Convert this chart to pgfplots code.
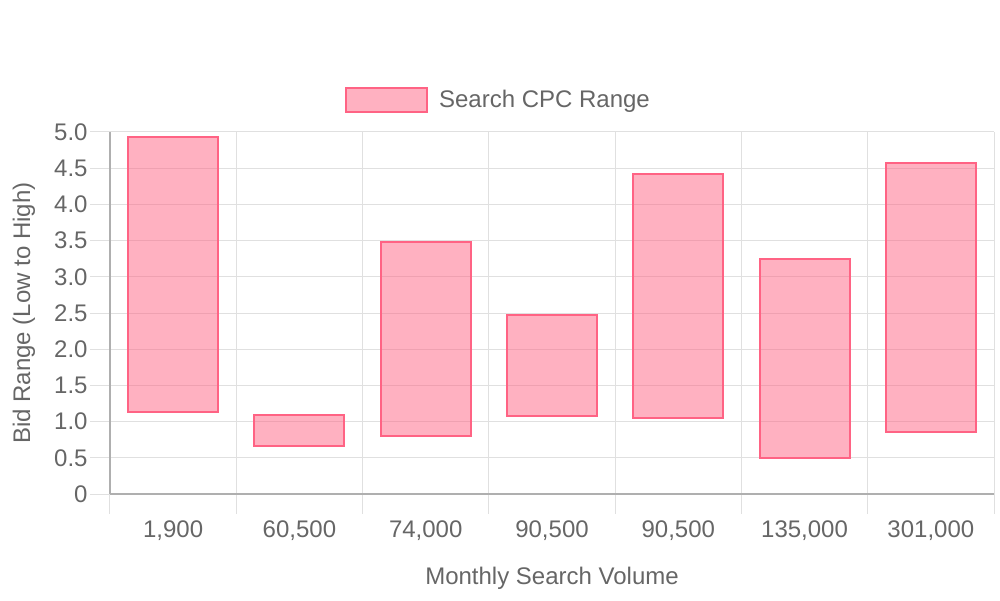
\documentclass[border=0pt]{standalone}
\usepackage{pgfplots}
\usepackage{pgfplotstable}
\pgfplotsset{compat=1.18}
\usepackage{fontspec}
\setmainfont{Liberation Sans}

\definecolor{txt}{RGB}{102,102,102}
\definecolor{gridc}{RGB}{224,224,224}
\definecolor{axisc}{RGB}{175,175,175}
\definecolor{cpc}{RGB}{255,99,132}

\pgfplotsset{
  cpc legend/.style={
    legend image code/.code={
      \draw[draw=cpc, line width=1pt, fill=cpc, fill opacity=0.5]
        (0pt,-6.1pt) rectangle (40.5pt,6.1pt);
      \path (44pt,0pt);}}
}

% bid range per keyword: low and high CPC
\pgfplotstableread{
x low high
0 1.13 4.93
1 0.66 1.09
2 0.80 3.48
3 1.08 2.47
4 1.05 4.42
5 0.50 3.25
6 0.85 4.57
}\cpcdata

\begin{document}
\begin{tikzpicture}
\useasboundingbox (-55pt,-53pt) rectangle (445pt,247pt);
\begin{axis}[
  scale only axis, width=442pt, height=181pt,
  at={(0,0)}, anchor=south west,
  font=\fontsize{12}{14}\selectfont,
  xmin=-0.5, xmax=6.5, ymin=0, ymax=5,
  ybar stacked, bar width=45pt,
  axis lines*=left,
  axis line style={axisc, line width=0.6pt},
  tick align=outside,
  major tick length=10pt, minor tick length=10pt,
  ytick={0,0.5,...,5},
  yticklabels={0,0.5,1.0,1.5,2.0,2.5,3.0,3.5,4.0,4.5,5.0},
  xtick={0,...,6},
  xticklabels={{1,900},{60,500},{74,000},{90,500},{90,500},{135,000},{301,000}},
  minor xtick={-0.5,0.5,...,6.5},
  ymajorgrids, xminorgrids,
  major grid style={gridc, line width=0.5pt},
  minor grid style={gridc, line width=0.5pt},
  major x tick style={draw=none},
  minor x tick style={gridc, line width=0.5pt},
  ytick style={gridc, line width=0.5pt},
  every tick label/.append style={text=txt},
  yticklabel style={inner sep=1pt},
  xlabel={Monthly Search Volume},
  ylabel={Bid Range (Low to High)},
  every axis x label/.style={at={(axis description cs:0.5,-0.232)}, anchor=center, text=txt},
  every axis y label/.style={at={(axis description cs:-0.0975,0.5)}, rotate=90, anchor=center, text=txt},
  legend style={at={(axis description cs:0.4406,1.088)}, anchor=center,
    draw=none, fill=none, text=txt, inner sep=0pt},
]
\addplot[draw=none, fill=none, forget plot] table[x=x, y=low]{\cpcdata};
\addplot[draw=cpc, line width=1pt, fill=cpc, fill opacity=0.5, cpc legend]
  table[x=x, y expr=\thisrow{high}-\thisrow{low}]{\cpcdata};
\addlegendentry{Search CPC Range}
\end{axis}
\end{tikzpicture}
\end{document}
